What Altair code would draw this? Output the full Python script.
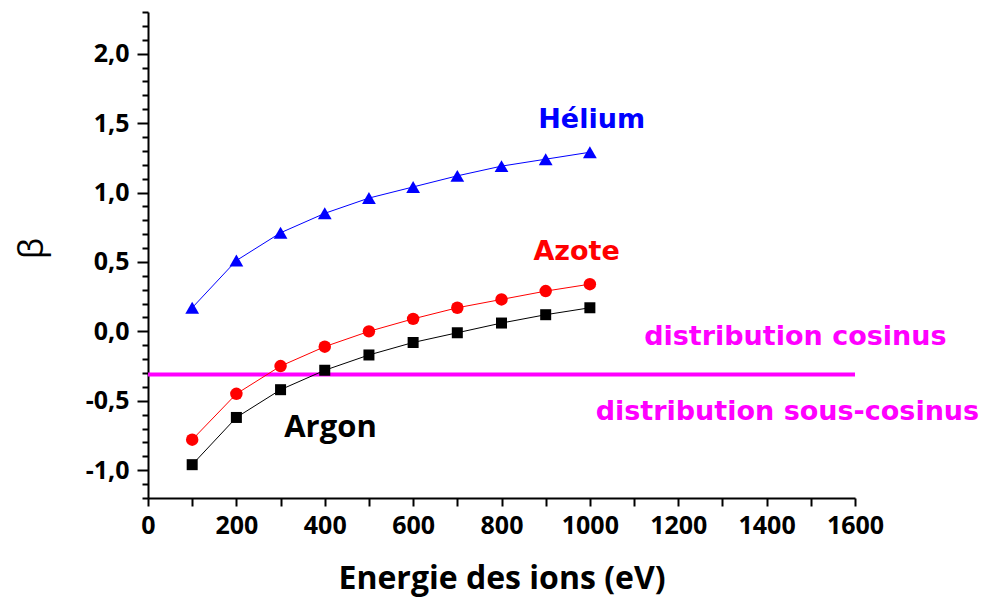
import altair as alt
import pandas as pd

# ---- data ----
energy = [100, 200, 300, 400, 500, 600, 700, 800, 900, 1000]
helium = [0.17, 0.51, 0.71, 0.85, 0.96, 1.04, 1.12, 1.19, 1.24, 1.29]
azote = [-0.78, -0.45, -0.25, -0.11, 0.00, 0.09, 0.17, 0.23, 0.29, 0.34]
argon = [-0.96, -0.62, -0.42, -0.28, -0.17, -0.08, -0.01, 0.06, 0.12, 0.17]

series_names = ["Hélium", "Azote", "Argon"]
series_colors = ["#0000ff", "#ff0000", "#000000"]
series_shapes = ["triangle-up", "circle", "square"]
series_sizes = [190, 121, 100]

cosine_limit = -0.31
cosine_x = [0, 1600]

x_domain = [0, 1600]
y_domain = [-1.2, 2.3]
x_major = [0, 200, 400, 600, 800, 1000, 1200, 1400, 1600]
x_minor = [100, 300, 500, 700, 900, 1100, 1300, 1500]
y_major = [-1.0, -0.5, 0.0, 0.5, 1.0, 1.5, 2.0]
y_minor = [-1.2, -1.1, -0.9, -0.8, -0.7, -0.6, -0.4, -0.3, -0.2, -0.1,
           0.1, 0.2, 0.3, 0.4, 0.6, 0.7, 0.8, 0.9, 1.1, 1.2, 1.3, 1.4,
           1.6, 1.7, 1.8, 1.9, 2.1, 2.2, 2.3]

# annotations (label, colour, anchor in data units)
label_texts = ["Hélium", "Azote", "distribution cosinus", "distribution sous-cosinus"]
label_colors = ["#0000ff", "#ff0000", "#ff00ff", "#ff00ff"]
label_x = [1004, 970, 1465, 1447]
label_y = [1.468, 0.516, -0.10, -0.64]
argon_label = "Argon"
argon_x = [413]
argon_y = [-0.763]

# ---- tables ----
rows = []
for name, vals in zip(series_names, [helium, azote, argon]):
    for e, v in zip(energy, vals):
        rows.append({"serie": name, "energie": e, "beta": v})
df = pd.DataFrame(rows)

rule_df = pd.DataFrame({"x0": [cosine_x[0]], "x1": [cosine_x[1]], "y": [cosine_limit]})
lab_df = pd.DataFrame({"txt": label_texts, "col": label_colors, "x": label_x, "y": label_y})
argon_df = pd.DataFrame({"txt": [argon_label], "x": argon_x, "y": argon_y})

xs = alt.Scale(domain=x_domain, nice=False, zero=False)
ys = alt.Scale(domain=y_domain, nice=False, zero=False)

FONT = "Open Sans"
y_label_expr = "replace(replace(format(datum.value, '.1f'), '.', ','), '\u2212', '-')"

main_x_axis = alt.Axis(
    values=x_major, orient="bottom", grid=False, format="d",
    domainColor="black", domainWidth=2, tickColor="black", tickWidth=2, tickSize=8,
    labelFont=FONT, labelFontWeight="bold", labelFontSize=25, labelColor="black",
    labelPadding=7, labelFlush=False, labelOverlap=False,
    title="Energie des ions (eV)", titleFont=FONT, titleFontWeight="bold",
    titleFontSize=32, titleColor="black", titleBaseline="alphabetic", titleY=90,
)
main_y_axis = alt.Axis(
    values=y_major, orient="left", grid=False,
    domainColor="black", domainWidth=2, tickColor="black", tickWidth=2, tickSize=11,
    labelFont=FONT, labelFontWeight="bold", labelFontSize=25, labelColor="black",
    labelPadding=8, labelFlush=False, labelOverlap=False, labelExpr=y_label_expr,
    title="β", titleFont=FONT, titleFontWeight="normal", titleFontSize=34,
    titleColor="black", titleAngle=-90, titleBaseline="alphabetic",
    titleX=-106, titleY=236, titleAlign="center",
)
minor_x_axis = alt.Axis(
    values=x_minor, orient="bottom", grid=False, labels=False, domain=False,
    tickColor="black", tickWidth=2, tickSize=8, title=None,
)
minor_y_axis = alt.Axis(
    values=y_minor, orient="left", grid=False, labels=False, domain=False,
    tickColor="black", tickWidth=2, tickSize=6, title=None,
)

color_enc = alt.Color("serie:N", scale=alt.Scale(domain=series_names, range=series_colors), legend=None)

rule = alt.Chart(rule_df).mark_rule(color="#ff00ff", strokeWidth=4).encode(
    x=alt.X("x0:Q", scale=xs, axis=None),
    x2="x1:Q",
    y=alt.Y("y:Q", scale=ys, axis=None),
)

lines = alt.Chart(df).mark_line(strokeWidth=1).encode(
    x=alt.X("energie:Q", scale=xs, axis=main_x_axis),
    y=alt.Y("beta:Q", scale=ys, axis=main_y_axis),
    color=color_enc,
    detail="serie:N",
)

points = alt.Chart(df).mark_point(filled=True, opacity=1, strokeWidth=0).encode(
    x=alt.X("energie:Q", scale=xs, axis=None),
    y=alt.Y("beta:Q", scale=ys, axis=None),
    color=color_enc,
    shape=alt.Shape("serie:N", scale=alt.Scale(domain=series_names, range=series_shapes), legend=None),
    size=alt.Size("serie:N", scale=alt.Scale(domain=series_names, range=series_sizes), legend=None),
)

minor = alt.Chart(df).mark_point(opacity=0).encode(
    x=alt.X("energie:Q", scale=xs, axis=minor_x_axis),
    y=alt.Y("beta:Q", scale=ys, axis=minor_y_axis),
)

labels = alt.Chart(lab_df).mark_text(
    font="DejaVu Sans", fontWeight="bold", fontSize=27, align="center", baseline="alphabetic"
).encode(
    x=alt.X("x:Q", scale=xs, axis=None),
    y=alt.Y("y:Q", scale=ys, axis=None),
    text="txt:N",
    color=alt.Color("col:N", scale=None),
)

argon_text = alt.Chart(argon_df).mark_text(
    font=FONT, fontWeight="bold", fontSize=31, align="center", baseline="alphabetic", color="black"
).encode(
    x=alt.X("x:Q", scale=xs, axis=None),
    y=alt.Y("y:Q", scale=ys, axis=None),
    text="txt:N",
)

chart = alt.layer(rule, lines, points, labels, argon_text, minor).resolve_axis(
    x="independent", y="independent"
).properties(
    width=707, height=486,
    autosize=alt.AutoSizeParams(type="none"),
    padding={"left": 140, "top": 4, "right": 125, "bottom": 99},
    background="white",
).configure_view(stroke=None)

chart.save("out.html", embed_options={"renderer": "svg", "actions": False})
